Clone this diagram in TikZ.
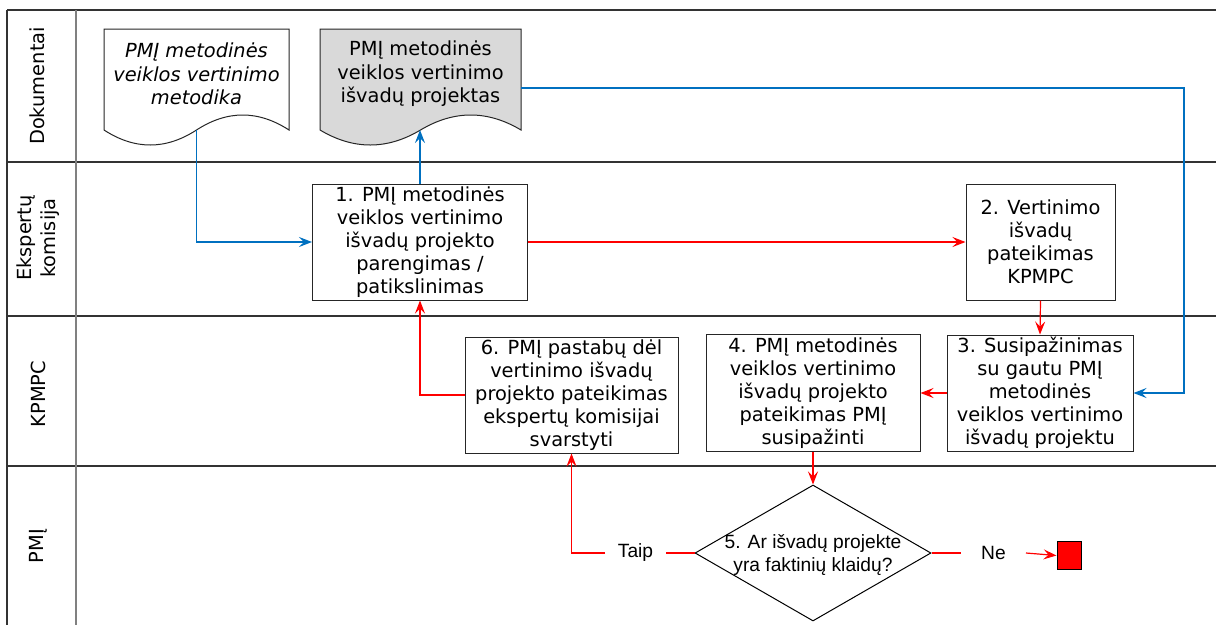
\documentclass[tikz,border=0pt]{standalone}
\usepackage{fontspec}
\setmainfont{DejaVu Sans}
\newfontfamily\arialfont{Liberation Sans}
\usetikzlibrary{arrows.meta,shapes.geometric}
\definecolor{flowblue}{RGB}{0,112,192}
\definecolor{flowred}{RGB}{255,0,0}
\definecolor{docgray}{RGB}{217,217,217}
\definecolor{lanegray}{RGB}{128,128,128}
\tikzset{
  laneline/.style={line width=2pt, draw=black!80},
  divline/.style={line width=1.8pt, draw=lanegray},
  stepbox/.style={draw=black!85, line width=1pt, fill=white, inner sep=0pt,
    align=center, font=\fontsize{19.4}{23}\selectfont},
  docoutline/.style={draw=black!85, line width=1pt},
  doctext/.style={inner sep=0pt, align=center, font=\fontsize{19.4}{23.5}\selectfont},
  lanelabel/.style={rotate=90, inner sep=0pt, align=center, font=\fontsize{19.4}{23.5}\selectfont},
  arialtext/.style={align=center, text=black, font=\arialfont\fontsize{19.2}{23}\selectfont},
  arrowtip/.style={-{Stealth[length=13pt,width=10pt,inset=5pt]}},
  blueflow/.style={color=flowblue, line width=1.2pt},
  redflow/.style={color=flowred, line width=1.2pt},
}
\begin{document}
\begin{tikzpicture}[x=1pt,y=-1pt]
\useasboundingbox (0,0) rectangle (1216,625);

% swimlane frame
\draw[laneline] (7,10) -- (1216,10);
\draw[laneline] (7,10) -- (7,625);
\draw[laneline] (7,162) -- (1216,162);
\draw[laneline] (7,316) -- (1216,316);
\draw[laneline] (7,466) -- (1216,466);
\draw[divline] (76,10) -- (76,625);

% lane titles
\node[lanelabel] (lDok) at (37,86) {Dokumentai};
\node[lanelabel] (lEks) at (38,238) {Ekspertų\\komisija};
\node[lanelabel] (lKpm) at (38,394) {KPMPC};
\node[lanelabel] (lPmi) at (38,546) {PMĮ};

% document 1: methodology
\draw[docoutline, fill=white] (104,29) -- (289,29) -- (289,130)
  .. controls (258.2,110) and (227.3,110) .. (196.5,130)
  .. controls (165.7,150) and (134.8,150) .. (104,130) -- cycle;
\coordinate (d1b) at (196.5,130);
\node[doctext, font=\fontsize{19.4}{23.5}\selectfont\itshape] (d1) at (196.5,74)
  {PMĮ metodinės\\veiklos vertinimo\\metodika};

% document 2: draft conclusions
\draw[docoutline, fill=docgray] (320,29) -- (521,29) -- (521,130)
  .. controls (487.5,110) and (454,110) .. (420.5,130)
  .. controls (387,150) and (353.5,150) .. (320,130) -- cycle;
\coordinate (d2b) at (420,130);
\coordinate (d2r) at (521,88);
\node[doctext] (d2) at (420.5,74)
  {PMĮ metodinės\\veiklos vertinimo\\išvadų projektas};

% process steps
\node[stepbox, minimum width=215pt, minimum height=116pt] (b1) at (420,242)
  {1. PMĮ metodinės\\veiklos vertinimo\\išvadų projekto\\parengimas /\\patikslinimas};
\node[stepbox, minimum width=149pt, minimum height=116pt] (b2) at (1040.5,242)
  {2. Vertinimo\\išvadų\\pateikimas\\KPMPC};
\node[stepbox, minimum width=186pt, minimum height=116pt] (b3) at (1040,393)
  {3. Susipažinimas\\su gautu PMĮ\\metodinės\\veiklos vertinimo\\išvadų projektu};
\node[stepbox, minimum width=214pt, minimum height=117pt] (b4) at (813,393)
  {4. PMĮ metodinės\\veiklos vertinimo\\išvadų projekto\\pateikimas PMĮ\\susipažinti};
\node[stepbox, minimum width=213pt, minimum height=116pt] (b6) at (571.5,395)
  {6. PMĮ pastabų dėl\\vertinimo išvadų\\projekto pateikimas\\ekspertų komisijai\\svarstyti};

% decision
\node[diamond, draw=black, line width=1pt, fill=white, inner sep=0pt,
  minimum width=236pt, minimum height=136pt, aspect=1.735] (dia) at (813,553) {};
\node[arialtext, inner sep=0pt] (diaText) at (813,555)
  {5. Ar išvadų projekte\\yra faktinių klaidų?};
\node[arialtext, inner xsep=12.5pt, inner ysep=0pt] (taip) at (635.5,553) {Taip};
\node[arialtext, inner xsep=20pt, inner ysep=0pt] (ne) at (993.5,553) {Ne};
\node[draw=black, line width=1pt, fill=flowred, minimum width=24pt,
  minimum height=28pt, inner sep=0pt] (stop) at (1069,555.5) {};
\coordinate (rightRail) at (1184,88);

% document flows
\draw[blueflow, arrowtip] (d1b) |- (b1.west);
\draw[blueflow, arrowtip] (b1.north) -- (d2b);
\draw[blueflow, arrowtip] (d2r) -- (rightRail) |- (b3.east);

% process flows
\draw[redflow, arrowtip] (b1.east) -- (b2.west);
\draw[redflow, arrowtip] (b2.south) -- (b3.north);
\draw[redflow, arrowtip] (b3.west) -- (b4.east);
\draw[redflow, arrowtip] (b4.south) -- (dia.north);
\draw[redflow] (dia.west) -- (taip.east);
\draw[redflow, arrowtip] (taip.west) -| (b6.south);
\draw[redflow, arrowtip] (b6.west) -| (b1.south);
\draw[redflow] (dia.east) -- (ne.west);
\draw[redflow, arrowtip] (ne.east) -- (stop.west);
\end{tikzpicture}
\end{document}
